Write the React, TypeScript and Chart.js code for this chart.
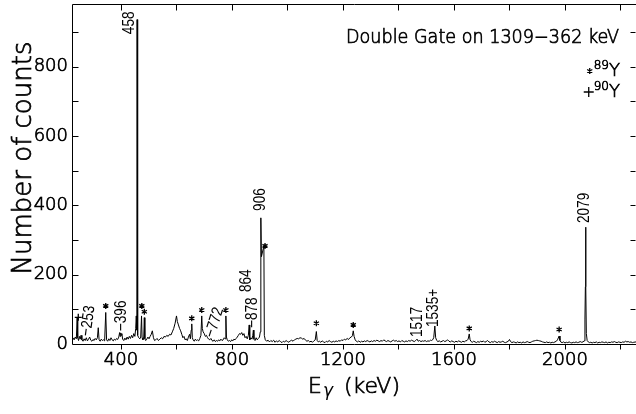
import React, { useEffect, useRef } from "react";
import { Chart, registerables } from "chart.js";

Chart.register(...registerables);

const FONT = '"DejaVu Sans", "Liberation Sans", sans-serif';
const LABEL_FONT = '"Liberation Sans", "DejaVu Sans", sans-serif';
const WEIGHT = "200";
const TEXT_STROKE = 0.7;

// ---- Spectrum (energy in keV, counts) ----
const energiesLow = [
  227, 231, 235, 239, 242, 244, 247, 250, 253, 256,
  259, 263, 267, 271, 275, 279, 283, 287, 291, 295,
  299, 303, 307, 311, 315, 318, 321, 325, 329, 333,
  337, 341, 345, 348, 352, 356, 360, 364, 368, 372,
  376, 380, 384, 388, 392, 395, 397, 399, 401, 403,
  406, 410, 414, 418, 422, 426, 430, 434, 438, 442,
  446, 450, 453, 455, 457, 458, 459, 461, 464, 468,
  471, 474, 476, 479, 482, 484, 486, 489, 493, 497,
  501, 505, 509, 513, 517, 521,
];
const countsLow = [
  18, 12, 20, 15, 76, 18, 10, 22, 14, 25,
  12, 8, 15, 10, 18, 9, 14, 20, 11, 8,
  13, 10, 16, 12, 18, 47, 12, 8, 14, 10,
  12, 9, 91, 12, 8, 15, 10, 18, 12, 9,
  14, 11, 16, 13, 20, 33, 22, 32, 25, 30,
  14, 10, 17, 12, 20, 14, 22, 16, 25, 18,
  30, 22, 45, 81, 40, 936, 60, 25, 18, 15,
  20, 81, 18, 12, 20, 76, 15, 10, 14, 20,
  15, 22, 28, 38, 18, 10,
];

const energiesMid = [
  525, 530, 535, 540, 545, 550, 555, 560, 565, 570,
  575, 580, 585, 590, 595, 600, 603, 607, 611, 615,
  619, 623, 627, 631, 635, 639, 643, 647, 650, 653,
  655, 657, 660, 664, 668, 672, 676, 680, 684, 688,
  691, 693, 696, 700, 704, 708, 712, 716, 720, 724,
  728, 732, 736, 740, 744, 748, 752, 756, 760, 764,
  768, 772, 775, 778, 780, 783, 787, 791, 795, 799,
  803, 807, 811, 815, 819, 823, 827, 831, 835, 839,
  843, 847, 851, 855, 859, 862, 864, 868, 872, 875,
  877, 879, 883, 887, 891, 895, 899, 902, 904, 906,
  915, 916.5,
];
const countsMid = [
  12, 16, 10, 14, 18, 15, 22, 20, 25, 22,
  28, 26, 35, 45, 60, 81, 65, 55, 45, 38,
  28, 18, 22, 12, 15, 10, 20, 28, 15, 40,
  58, 18, 12, 8, 14, 10, 12, 9, 16, 25,
  81, 45, 35, 30, 22, 25, 18, 14, 12, 16,
  10, 8, 12, 7, 10, 8, 12, 9, 14, 10,
  12, 18, 15, 81, 20, 12, 8, 10, 7, 12,
  9, 14, 12, 16, 20, 25, 30, 28, 33, 25,
  30, 18, 22, 15, 25, 55, 12, 18, 14, 25,
  40, 14, 10, 18, 12, 16, 20, 35, 364, 252,
  283, 25,
];

const energiesHigh = [
  920, 925, 930, 935, 940, 945, 950, 955, 960, 965,
  970, 975, 980, 985, 990, 995, 1000, 1005, 1010, 1015,
  1020, 1025, 1030, 1035, 1040, 1045, 1050, 1055, 1060, 1065,
  1070, 1075, 1080, 1085, 1090, 1095, 1100, 1104, 1107, 1111,
  1115, 1120, 1125, 1130, 1135, 1140, 1145, 1150, 1155, 1160,
  1165, 1170, 1175, 1180, 1185, 1190, 1195, 1200, 1205, 1210,
  1215, 1220, 1225, 1230, 1234, 1237, 1240, 1244, 1248, 1252,
  1257, 1262, 1267, 1272, 1277, 1282, 1287, 1292, 1297, 1302,
  1307, 1312, 1317, 1322, 1327, 1332, 1337, 1342, 1347, 1352,
  1357, 1362, 1367, 1372, 1377, 1382, 1387, 1392, 1397, 1402,
  1407, 1412, 1417, 1422, 1427, 1432, 1437, 1442, 1447, 1452,
  1457, 1462, 1467, 1471, 1476, 1481, 1486, 1491, 1496, 1501,
  1506, 1511, 1515, 1519, 1523, 1527, 1531, 1534, 1538, 1542,
  1547, 1552, 1557, 1562, 1567, 1572, 1577, 1582, 1587, 1592,
  1597, 1602, 1607, 1612, 1617, 1622, 1627, 1632, 1637, 1642,
  1647, 1651, 1655, 1658, 1662, 1666, 1671, 1676, 1681, 1686,
  1691, 1696, 1701, 1706, 1711, 1716, 1721, 1726, 1731, 1736,
  1741, 1746, 1751, 1756, 1761, 1766, 1771, 1776, 1781, 1786,
  1791, 1796, 1800, 1804, 1809, 1814, 1819, 1824, 1829, 1834,
  1839, 1844, 1849, 1854, 1859, 1864, 1869, 1874, 1879, 1884,
  1889, 1894, 1899, 1904, 1909, 1914, 1919, 1924, 1929, 1934,
  1939, 1944, 1949, 1954, 1959, 1964, 1969, 1973, 1979, 1982,
  1986, 1990, 1995, 2000, 2005, 2010, 2015, 2020, 2025, 2030,
  2035, 2040, 2045, 2050, 2055, 2060, 2065, 2069, 2072, 2073.5,
  2074.5, 2075.5, 2077, 2080, 2084, 2088, 2093, 2098, 2103, 2108,
  2113, 2118, 2123, 2128, 2133, 2138, 2143, 2148, 2153, 2158,
  2163, 2168, 2173, 2178, 2183, 2188, 2193, 2198, 2203, 2208,
  2213, 2218, 2223, 2228, 2233, 2238, 2243, 2248, 2256,
];
const countsHigh = [
  12, 8, 11, 6, 10, 7, 11, 5, 9, 6,
  10, 7, 4, 8, 6, 10, 7, 5, 9, 11,
  8, 12, 14, 16, 15, 18, 17, 14, 16, 11,
  8, 10, 6, 8, 5, 9, 12, 36, 10, 6,
  8, 5, 9, 6, 4, 8, 6, 10, 7, 5,
  8, 6, 9, 7, 10, 8, 12, 10, 14, 12,
  16, 13, 18, 20, 24, 38, 22, 12, 8, 6,
  9, 5, 8, 6, 9, 7, 10, 8, 6, 9,
  7, 10, 8, 11, 9, 7, 10, 8, 12, 9,
  7, 10, 8, 6, 9, 11, 8, 10, 7, 9,
  6, 10, 8, 6, 9, 7, 10, 8, 11, 9,
  7, 10, 14, 8, 10, 7, 9, 8, 10, 7,
  9, 8, 11, 10, 12, 18, 52, 18, 10, 7,
  9, 6, 8, 10, 7, 9, 12, 8, 6, 9,
  7, 5, 8, 6, 9, 7, 5, 8, 6, 9,
  10, 14, 29, 12, 7, 5, 8, 6, 4, 7,
  5, 8, 6, 9, 5, 7, 10, 6, 4, 7,
  5, 8, 6, 4, 7, 5, 6, 8, 5, 4,
  6, 8, 13, 7, 4, 6, 5, 3, 6, 4,
  5, 3, 6, 4, 5, 7, 5, 4, 6, 8,
  9, 10, 11, 10, 9, 8, 6, 5, 4, 6,
  4, 5, 3, 5, 4, 6, 8, 12, 23, 10,
  5, 4, 6, 3, 5, 4, 6, 4, 3, 5,
  4, 6, 4, 5, 7, 5, 6, 9, 72, 165,
  337, 165, 30, 10, 6, 4, 5, 3, 5, 4,
  6, 3, 5, 4, 6, 5, 4, 6, 3, 5,
  4, 6, 5, 7, 5, 4, 6, 5, 4, 6,
  5, 8, 6, 7, 5, 6, 4, 5, 6,
];

// ---- Axes ----
const xMin = 227;
const xMax = 2256;
const yMin = 0;
const yMax = 981;
const xTickLabels = [400, 800, 1200, 1600, 2000];
const yTickLabels = [0, 200, 400, 600, 800];
const xTickMarks = [400, 600, 800, 1000, 1200, 1400, 1600, 1800, 2000, 2200];
const yTickMarks = [100, 200, 300, 400, 500, 600, 700, 800, 900];
const xTitleMain = "E";
const xTitleSub = "γ";
const xTitleUnit = "(keV)";
const yTitle = "Number of counts";

// ---- Annotations ----
const gateTitle = "Double Gate on 1309−362 keV";
const starEnergies = [345, 475, 484, 655, 691, 778, 919, 1104, 1237, 1655, 1979];
const starCounts = [110, 110, 93, 74, 98, 98, 283, 60, 55, 45, 42];
const plusEnergies = [246];
const plusCounts = [77];
const peakLabelTexts = ["458", "906", "2079", "864", "−878", "−396", "−253", "−772", "1517", "1535+"];
const peakLabelEnergies = [430.6, 904.5, 2072, 854, 876, 403.6, 274, 720, 1468, 1528];
const peakLabelCounts = [894, 384, 349, 150, 46, 37, 23, 20, 20, 49];
const peakLabelAngles = [-90, -90, -90, -90, -90, -90, -82, -72, -90, -90];
const legendMarkers = ["star", "plus"];
const legendMass = ["89", "90"];
const legendElement = ["Y", "Y"];

function drawStar(ctx: CanvasRenderingContext2D, cx: number, cy: number, r: number) {
  ctx.beginPath();
  for (const a of [Math.PI / 2, Math.PI / 6, -Math.PI / 6]) {
    const dx = Math.cos(a) * r;
    const dy = Math.sin(a) * r;
    ctx.moveTo(cx - dx, cy - dy);
    ctx.lineTo(cx + dx, cy + dy);
  }
  ctx.stroke();
}

function drawPlus(ctx: CanvasRenderingContext2D, cx: number, cy: number, r: number) {
  ctx.beginPath();
  ctx.moveTo(cx - r, cy);
  ctx.lineTo(cx + r, cy);
  ctx.moveTo(cx, cy - r);
  ctx.lineTo(cx, cy + r);
  ctx.stroke();
}

function inkText(ctx: CanvasRenderingContext2D, t: string, x: number, y: number, maxW?: number) {
  const lw = ctx.lineWidth;
  ctx.lineWidth = TEXT_STROKE;
  if (maxW) {
    ctx.fillText(t, x, y, maxW);
    ctx.strokeText(t, x, y, maxW);
  } else {
    ctx.fillText(t, x, y);
    ctx.strokeText(t, x, y);
  }
  ctx.lineWidth = lw;
}

const decorPlugin = {
  id: "decor",
  afterDraw(chart: any) {
    const ctx: CanvasRenderingContext2D = chart.ctx;
    const { left, right, top, bottom } = chart.chartArea;
    const xs = chart.scales.x;
    const ys = chart.scales.y;
    ctx.save();
    ctx.strokeStyle = "#000";
    ctx.fillStyle = "#000";
    ctx.lineWidth = 1;

    const L = Math.round(left) - 0.5;
    const R = Math.round(right) - 0.5;
    const T = Math.round(top) + 0.5;
    const B = Math.round(bottom) + 0.5;
    // frame
    ctx.beginPath();
    ctx.moveTo(L, B);
    ctx.lineTo(L, T);
    ctx.lineTo(R + 1, T);
    ctx.moveTo(L, B);
    ctx.lineTo(R + 1, B);
    ctx.stroke();

    // ticks
    ctx.beginPath();
    for (const v of yTickMarks) {
      const py = Math.round(ys.getPixelForValue(v)) + 0.5;
      ctx.moveTo(L, py);
      ctx.lineTo(L + 6, py);
      ctx.moveTo(R, py);
      ctx.lineTo(R - 5, py);
    }
    for (const v of xTickMarks) {
      const px = Math.round(xs.getPixelForValue(v)) + 0.5;
      ctx.moveTo(px, T);
      ctx.lineTo(px, T + 6);
      ctx.moveTo(px, B);
      ctx.lineTo(px, B + 5);
    }
    ctx.stroke();

    // markers
    ctx.lineWidth = 1.3;
    starEnergies.forEach((e, i) => {
      drawStar(ctx, xs.getPixelForValue(e), ys.getPixelForValue(starCounts[i]), 3);
    });
    plusEnergies.forEach((e, i) => {
      drawPlus(ctx, xs.getPixelForValue(e), ys.getPixelForValue(plusCounts[i]), 3.5);
    });

    // rotated peak labels
    ctx.font = `16px ${LABEL_FONT}`;
    ctx.textAlign = "left";
    ctx.textBaseline = "middle";
    peakLabelTexts.forEach((t, i) => {
      const px = xs.getPixelForValue(peakLabelEnergies[i]);
      const py = ys.getPixelForValue(peakLabelCounts[i]);
      ctx.save();
      ctx.translate(px, py);
      ctx.rotate((peakLabelAngles[i] * Math.PI) / 180);
      ctx.scale(0.85, 1);
      ctx.fillText(t, 0, 0);
      ctx.restore();
    });

    // gate title
    ctx.textBaseline = "alphabetic";
    ctx.textAlign = "right";
    ctx.font = `${WEIGHT} 19px ${FONT}`;
    inkText(ctx, gateTitle, right - 17, top + 39, 273);

    // legend
    const legBase = [top + 72, top + 93];
    legendMarkers.forEach((m, i) => {
      ctx.textAlign = "left";
      ctx.font = `${WEIGHT} 18px ${FONT}`;
      const wY = ctx.measureText(legendElement[i]).width;
      const yX = right - 16 - wY;
      inkText(ctx, legendElement[i], yX, legBase[i]);
      ctx.font = `${WEIGHT} 12px ${FONT}`;
      const wS = ctx.measureText(legendMass[i]).width;
      inkText(ctx, legendMass[i], yX - wS, legBase[i] - 7);
      ctx.lineWidth = 1.3;
      if (m === "star") drawStar(ctx, yX - wS - 4, legBase[i] - 5, 3);
      else drawPlus(ctx, yX - wS - 5, legBase[i] - 5, 5);
    });

    // y title
    ctx.save();
    ctx.font = `${WEIGHT} 26px ${FONT}`;
    ctx.textAlign = "center";
    ctx.textBaseline = "alphabetic";
    ctx.translate(31, (top + bottom) / 2 - 16);
    ctx.rotate(-Math.PI / 2);
    inkText(ctx, yTitle, 0, 0, 237);
    ctx.restore();

    // x title
    ctx.textAlign = "left";
    ctx.textBaseline = "alphabetic";
    let tx = 308;
    const tb = 393;
    ctx.font = `${WEIGHT} 22px ${FONT}`;
    inkText(ctx, xTitleMain, tx, tb);
    tx += ctx.measureText(xTitleMain).width + 1;
    ctx.font = `italic 17px ${FONT}`;
    ctx.fillText(xTitleSub, tx, tb + 3);
    tx += ctx.measureText(xTitleSub).width + 11;
    ctx.font = `${WEIGHT} 22px ${FONT}`;
    inkText(ctx, xTitleUnit, tx, tb);

    ctx.restore();
  },
};

export default function App() {
  const canvasRef = useRef<HTMLCanvasElement | null>(null);

  useEffect(() => {
    const canvas = canvasRef.current;
    if (!canvas) return;
    const energies = [...energiesLow, ...energiesMid, ...energiesHigh];
    const counts = [...countsLow, ...countsMid, ...countsHigh];
    const data = energies.map((e, i) => ({ x: e, y: counts[i] }));

    const chart = new Chart(canvas, {
      type: "line",
      data: {
        datasets: [
          {
            data,
            borderColor: "#000",
            borderWidth: 1,
            pointRadius: 0,
            tension: 0,
            fill: false,
          },
        ],
      },
      options: {
        responsive: false,
        animation: false,
        devicePixelRatio: 1,
        layout: { padding: { left: 0, right: 0, top: 4, bottom: 0 } },
        plugins: {
          legend: { display: false },
          tooltip: { enabled: false },
          title: { display: false },
        },
        scales: {
          x: {
            type: "linear",
            min: xMin,
            max: xMax,
            grid: { display: false, drawTicks: false },
            border: { display: false },
            afterBuildTicks: (s: any) => {
              s.ticks = xTickLabels.map((v) => ({ value: v }));
            },
            ticks: {
              autoSkip: false,
              maxRotation: 0,
              color: "#000",
              textStrokeColor: "#000",
              textStrokeWidth: TEXT_STROKE,
              padding: 6,
              font: { family: FONT, size: 18, weight: WEIGHT },
              callback: (v: any) => String(v),
            },
            afterFit: (s: any) => {
              s.height = 70;
              s.paddingLeft = 0;
              s.paddingRight = 0;
            },
          },
          y: {
            type: "linear",
            min: yMin,
            max: yMax,
            grid: { display: false, drawTicks: false },
            border: { display: false },
            afterBuildTicks: (s: any) => {
              s.ticks = yTickLabels.map((v) => ({ value: v }));
            },
            ticks: {
              color: "#000",
              textStrokeColor: "#000",
              textStrokeWidth: TEXT_STROKE,
              padding: 5,
              font: { family: FONT, size: 18, weight: WEIGHT },
              callback: (v: any) => String(v),
            },
            afterFit: (s: any) => {
              s.width = 73;
              s.paddingTop = 0;
              s.paddingBottom = 0;
            },
          },
        },
      },
      plugins: [decorPlugin],
    });
    return () => chart.destroy();
  }, []);

  return (
    <div style={{ position: "absolute", left: 0, top: 0, width: 636, height: 414, background: "#fff" }}>
      <canvas ref={canvasRef} width={636} height={414} style={{ display: "block" }} />
    </div>
  );
}
